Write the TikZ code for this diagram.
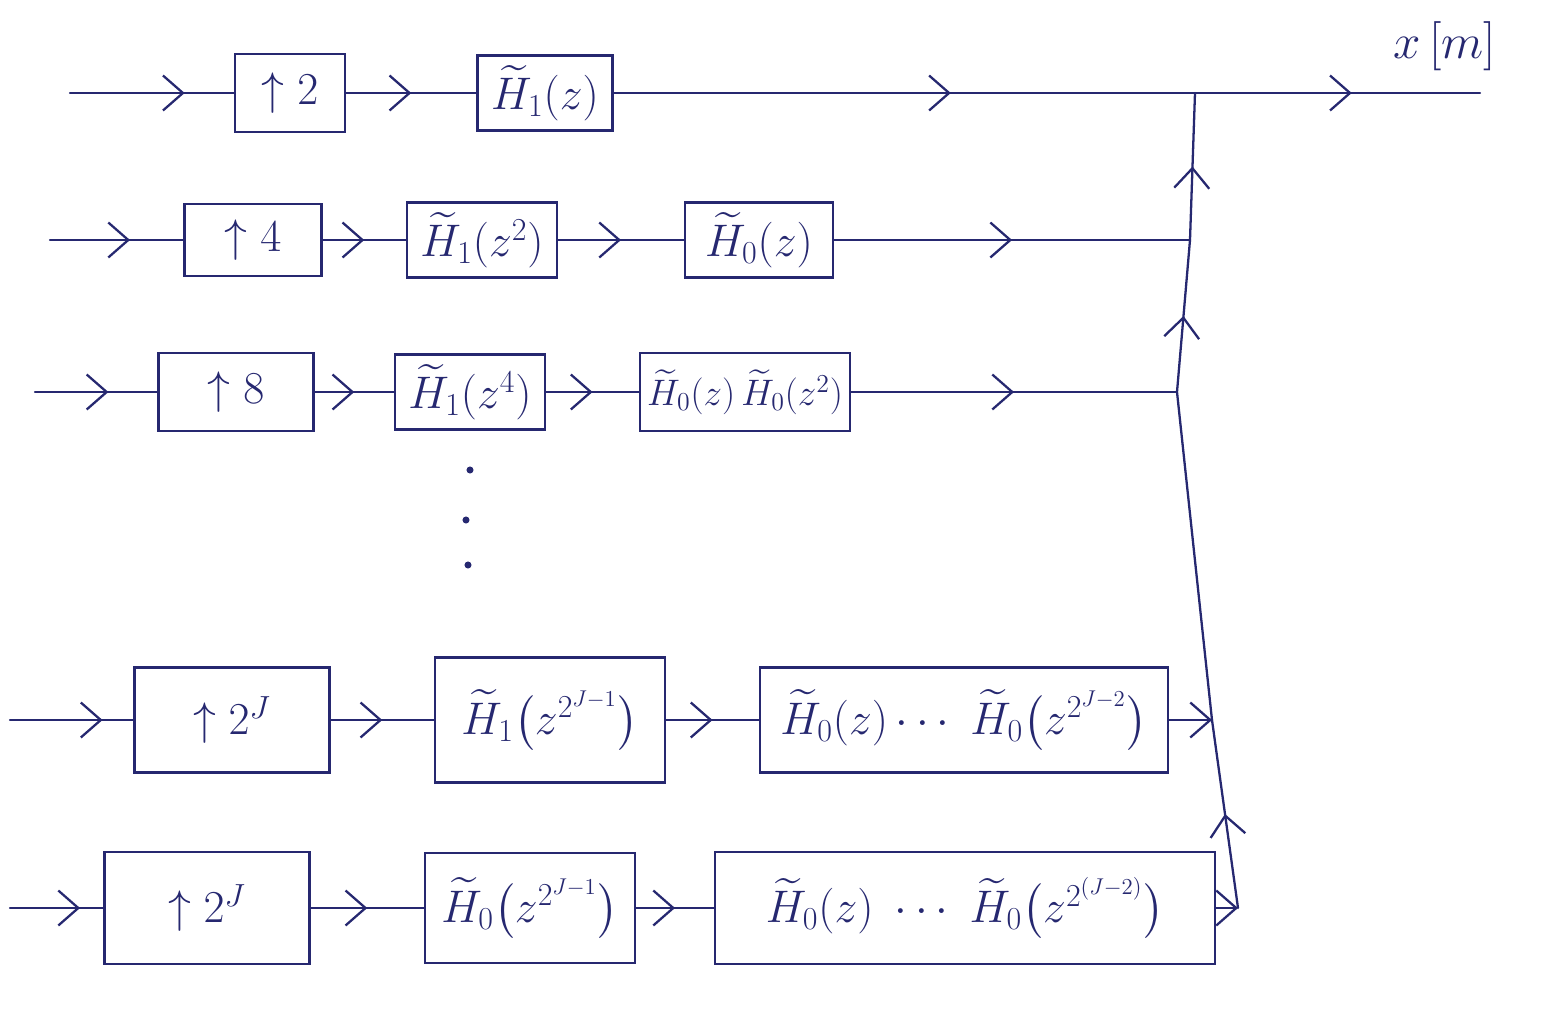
\documentclass[tikz,border=0pt]{standalone}
\usepackage{fix-cm}
\usepackage{amsmath,amssymb}
\usetikzlibrary{arrows.meta,decorations.markings}
\definecolor{ink}{RGB}{38,40,112}
\tikzset{
  blk/.style={draw=ink, line width=1.3pt, inner sep=4pt, text=ink, font=\fontsize{26}{32}\selectfont},
  wire/.style={draw=ink, line width=1.3pt, line cap=round},
  chev/.style={postaction={decorate}, decoration={markings, mark=at position #1 with {\arrow{Straight Barb[length=4mm,width=7mm,line width=1.3pt]}}}},
  chev/.default=0.5,
  endarr/.style={-{Straight Barb[length=4mm,width=7mm,line width=1.3pt]}},
  lbl/.style={text=ink, font=\fontsize{28}{34}\selectfont},
}
\begin{document}
\begin{tikzpicture}[x=0.02cm,y=-0.02cm,color=ink]
\useasboundingbox (0,0) rectangle (1543,1011);

% row 1
\coordinate (i1) at (70,93);
\node[blk, minimum width=2.2cm, minimum height=1.56cm] (b11) at (290,93) {$\uparrow 2$};
\node[blk, minimum width=2.7cm, minimum height=1.5cm] (b12) at (545,93) {$\widetilde{H}_1(z)$};
\coordinate (j1) at (1195,93);
\coordinate (out) at (1480,93);
\node[lbl] (xl) at (1445,46) {$x\,[m]$};

% row 2
\coordinate (i2) at (50,240);
\node[blk, minimum width=2.74cm, minimum height=1.44cm] (b21) at (253,240) {$\uparrow 4$};
\node[blk, minimum width=3.0cm, minimum height=1.5cm] (b22) at (482,240) {$\widetilde{H}_1(z^2)$};
\node[blk, minimum width=2.96cm, minimum height=1.5cm] (b23) at (759,240) {$\widetilde{H}_0(z)$};
\coordinate (j2) at (1190,240);

% row 3
\coordinate (i3) at (35,392);
\node[blk, minimum width=3.1cm, minimum height=1.56cm] (b31) at (236,392) {$\uparrow 8$};
\node[blk, minimum width=3.0cm, minimum height=1.5cm] (b32) at (470,392) {$\widetilde{H}_1(z^4)$};
\node[blk, font=\fontsize{21}{26}\selectfont, minimum width=4.1cm, minimum height=1.56cm] (b33) at (745,392) {$\widetilde{H}_0(z)\,\widetilde{H}_0(z^2)$};
\coordinate (j3) at (1177,392);

% dots
\fill (470,470) circle (2pt);
\fill (466,520) circle (2pt);
\fill (468,565) circle (2pt);

% row 4
\coordinate (i4) at (10,720);
\node[blk, minimum width=3.9cm, minimum height=2.1cm] (b41) at (232,720) {$\uparrow 2^J$};
\node[blk, minimum width=4.6cm, minimum height=2.5cm] (b42) at (550,720) {$\widetilde{H}_1\big(z^{2^{J-1}}\big)$};
\node[blk, minimum width=8.16cm, minimum height=2.1cm] (b43) at (964,720) {$\widetilde{H}_0(z)\cdots\ \widetilde{H}_0\big(z^{2^{J-2}}\big)$};
\coordinate (j4) at (1212,720);

% row 5
\coordinate (i5) at (10,908);
\node[blk, minimum width=4.1cm, minimum height=2.24cm] (b51) at (207,908) {$\uparrow 2^J$};
\node[blk, minimum width=4.2cm, minimum height=2.2cm] (b52) at (530,908) {$\widetilde{H}_0\big(z^{2^{J-1}}\big)$};
\node[blk, minimum width=10cm, minimum height=2.24cm] (b53) at (965,908) {$\widetilde{H}_0(z)\ \cdots\ \widetilde{H}_0\big(z^{2^{(J-2)}}\big)$};
\coordinate (j5) at (1238,908);

% wires row 1
\draw[wire, chev=0.7] (i1) -- (b11.west);
\draw[wire, chev] (b11.east) -- (b12.west);
\draw[wire, chev=0.58] (b12.east) -- (j1);
\draw[wire, chev=0.55] (j1) -- (out);
% row 2
\draw[wire, chev=0.6] (i2) -- (b21.west);
\draw[wire, chev] (b21.east) -- (b22.west);
\draw[wire, chev] (b22.east) -- (b23.west);
\draw[wire, chev] (b23.east) -- (j2);
% row 3
\draw[wire, chev=0.6] (i3) -- (b31.west);
\draw[wire, chev] (b31.east) -- (b32.west);
\draw[wire, chev] (b32.east) -- (b33.west);
\draw[wire, chev] (b33.east) -- (j3);
% row 4
\draw[wire, chev=0.75] (i4) -- (b41.west);
\draw[wire, chev] (b41.east) -- (b42.west);
\draw[wire, chev] (b42.east) -- (b43.west);
\draw[wire, endarr] (b43.east) -- (j4);
% row 5
\draw[wire, chev=0.75] (i5) -- (b51.west);
\draw[wire, chev] (b51.east) -- (b52.west);
\draw[wire, chev] (b52.east) -- (b53.west);
\draw[wire, endarr] (b53.east) -- (j5);
% bus
\draw[wire, chev] (j5) -- (j4);
\draw[wire] (j4) -- (j3);
\draw[wire, chev] (j3) -- (j2);
\draw[wire, chev] (j2) -- (j1);
\end{tikzpicture}
\end{document}
